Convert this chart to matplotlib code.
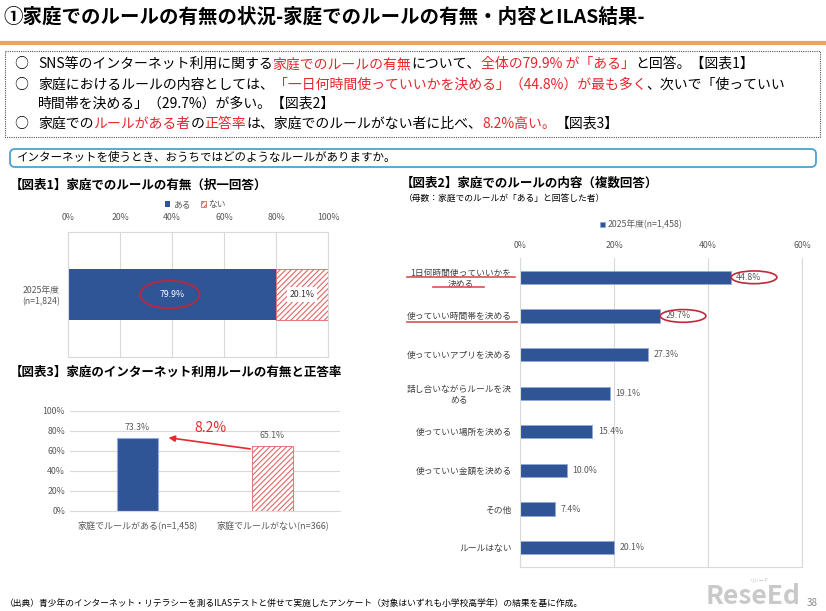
import matplotlib
matplotlib.use("Agg")
import matplotlib.pyplot as plt
import numpy as np
from matplotlib.patches import Ellipse, Rectangle, FancyBboxPatch

plt.rcParams['font.family'] = ['Noto Sans CJK JP', 'DejaVu Sans']
plt.rcParams['hatch.linewidth'] = 0.8

# ---- data ----
fig1_category = ["2025年度\n(n=1,824)"]
fig1_yes = [79.9]
fig1_no = [20.1]
fig1_legend = ["ある", "ない"]

fig2_labels = ["1日何時間使っていいかを\n決める", "使っていい時間帯を決める", "使っていいアプリを決める",
               "話し合いながらルールを決\nめる", "使っていい場所を決める", "使っていい金額を決める",
               "その他", "ルールはない"]
fig2_values = [44.8, 29.7, 27.3, 19.1, 15.4, 10.0, 7.4, 20.1]
fig2_legend = "2025年度(n=1,458)"

fig3_labels = ["家庭でルールがある(n=1,458)", "家庭でルールがない(n=366)"]
fig3_values = [73.3, 65.1]
fig3_diff = "8.2%"

BLUE = "#2F5597"
HATCH_RED = "#E06666"
RED = "#E8262B"
GRID = "#D9D9D9"
TXT = "#595959"

W, H = 826, 611
fig = plt.figure(figsize=(W / 100, H / 100), dpi=100)


def px_axes(x0, y0, x1, y1):
    return fig.add_axes([x0 / W, 1 - y1 / H, (x1 - x0) / W, (y1 - y0) / H])


# overlay axes in pixel coords for the slide furniture
bg = fig.add_axes([0, 0, 1, 1], zorder=5)
bg.set_xlim(0, W)
bg.set_ylim(H, 0)
bg.axis('off')


def seg_line(x, y, segs, size):
    prev = bg.text(x, y, segs[0][0], color=segs[0][1], fontsize=size, va='center', ha='left')
    for s, c in segs[1:]:
        prev = bg.annotate(s, xy=(1, 0), xycoords=prev, color=c, fontsize=size, va='bottom', ha='left')


# title
bg.text(3, 17, "①家庭でのルールの有無の状況-家庭でのルールの有無・内容とILAS結果-",
        fontsize=14, fontweight='bold', va='center')
bg.plot([0, W], [43, 43], color="#EDA35A", lw=3, solid_capstyle='butt')

# summary box
bg.add_patch(Rectangle((5, 51), 815, 86, fill=False, ec="#555555", lw=0.8, ls=(0, (1, 1))))
k = "black"
for yy in [64, 85, 124]:
    bg.text(14, yy, "○", fontsize=10, va='center')
seg_line(38, 64, [("SNS等のインターネット利用に関する", k), ("家庭でのルールの有無", RED), ("について、", k),
                  ("全体の79.9% が「ある」", RED), ("と回答。【図表1】", k)], 10)
seg_line(38, 85, [("家庭におけるルールの内容としては、", k), ("「一日何時間使っていいかを決める」（44.8%）が最も多く", RED),
                  ("、次いで「使っていい", k)], 10)
seg_line(38, 104, [("時間帯を決める」（29.7%）が多い。【図表2】", k)], 10)
seg_line(38, 124, [("家庭での", k), ("ルールがある者", RED), ("の", k), ("正答率", RED),
                   ("は、家庭でのルールがない者に比べ、", k), ("8.2%高い。", RED), ("【図表3】", k)], 10)

# question box
bg.add_patch(FancyBboxPatch((10, 149), 806, 18, boxstyle="round,pad=0,rounding_size=5",
                            fill=False, ec="#4BA3D3", lw=1.3))
bg.text(17, 158, "インターネットを使うとき、おうちではどのようなルールがありますか。", fontsize=8.3, va='center')

# headings
bg.text(10, 185, "【図表1】家庭でのルールの有無（択一回答）", fontsize=9, fontweight='bold', va='center')
bg.text(10, 372, "【図表3】家庭のインターネット利用ルールの有無と正答率", fontsize=9, fontweight='bold', va='center')
bg.text(401, 183, "【図表2】家庭でのルールの内容（複数回答）", fontsize=9, fontweight='bold', va='center')
bg.text(404, 198, "（母数：家庭でのルールが「ある」と回答した者）", fontsize=6.3, va='center')

# ---- 図表1 ----
ax1 = px_axes(68, 232, 328, 357)
ax1.barh(0, fig1_yes, height=0.41, color=BLUE, label=fig1_legend[0])
ax1.barh(0, fig1_no, left=fig1_yes, height=0.41, facecolor='white', edgecolor=HATCH_RED,
         hatch='//////', lw=0.6, label=fig1_legend[1])
ax1.set_xlim(0, 100)
ax1.set_ylim(-0.5, 0.5)
ax1.xaxis.tick_top()
ax1.set_xticks(np.arange(0, 101, 20), [f"{v}%" for v in range(0, 101, 20)])
ax1.set_yticks([0], fig1_category)
for lbl in ax1.get_yticklabels():
    lbl.set_multialignment('center')
ax1.tick_params(length=0, labelsize=6.3, labelcolor=TXT)
ax1.tick_params(axis='y', pad=6)
ax1.tick_params(axis='x', pad=7)
ax1.grid(axis='x', color=GRID, lw=0.8)
ax1.set_axisbelow(True)
for s in ax1.spines.values():
    s.set_color(GRID)
ax1.text(fig1_yes[0] / 2, 0, f"{fig1_yes[0]:.1f}%", color='white', fontsize=6.3, ha='center', va='center')
ax1.text(fig1_yes[0] + fig1_no[0] / 2, 0, f"{fig1_no[0]:.1f}%", color='#333333', fontsize=6.3,
         ha='center', va='center', bbox=dict(fc='white', ec='none', pad=2))
ax1.add_patch(Ellipse((fig1_yes[0] / 2 - 0.8, 0), 23, 0.22, fill=False, ec="#B8283F", lw=1.4))
ax1.legend(loc='lower center', bbox_to_anchor=(0.49, 1.12), ncol=2, frameon=False, fontsize=6.3,
           handlelength=0.6, handleheight=0.6, handletextpad=0.3, columnspacing=1.2, labelcolor=TXT)

# ---- 図表3 ----
ax3 = px_axes(70, 411, 340, 511)
b1 = ax3.bar(0, fig3_values[0], width=0.31, color=BLUE, edgecolor="#8FAADC", lw=0.8)
b2 = ax3.bar(1, fig3_values[1], width=0.31, facecolor='white', edgecolor=HATCH_RED, hatch='//////', lw=0.6)
ax3.set_xlim(-0.5, 1.5)
ax3.set_ylim(0, 100)
ax3.set_yticks(np.arange(0, 101, 20), [f"{v}%" for v in range(0, 101, 20)])
ax3.set_xticks([0, 1], fig3_labels)
ax3.tick_params(length=0, labelsize=6.3, labelcolor=TXT)
ax3.tick_params(axis='x', labelsize=6.5, pad=7)
ax3.grid(axis='y', color=GRID, lw=0.8)
ax3.set_axisbelow(True)
for side in ['top', 'right', 'left']:
    ax3.spines[side].set_visible(False)
ax3.spines['bottom'].set_color(GRID)
for b in [b1, b2]:
    ax3.bar_label(b, fmt="%.1f%%", padding=4, fontsize=6.3, color=TXT)
ax3.annotate("", xy=(0.23, fig3_values[0]), xytext=(0.835, fig3_values[1] - 3),
             arrowprops=dict(arrowstyle='-|>', color=RED, lw=1.2, mutation_scale=9, shrinkA=0, shrinkB=0))
ax3.text(0.54, fig3_values[0] + 10, fig3_diff, color=RED, fontsize=10, ha='center', va='center')

# ---- 図表2 ----
ax2 = px_axes(520, 258, 802, 567)
ypos = np.arange(len(fig2_values))
bars = ax2.barh(ypos, fig2_values, height=0.34, color=BLUE, edgecolor="#8FAADC", lw=0.6, label=fig2_legend)
ax2.set_ylim(len(fig2_values) - 0.5, -0.5)
ax2.set_xlim(0, 60)
ax2.xaxis.tick_top()
ax2.set_xticks(np.arange(0, 61, 20), [f"{v}%" for v in range(0, 61, 20)])
ax2.set_yticks(ypos, fig2_labels)
for lbl in ax2.get_yticklabels():
    lbl.set_multialignment('center')
ax2.tick_params(length=0, labelsize=6.3, labelcolor=TXT)
ax2.tick_params(axis='y', labelcolor="#404040", pad=6)
ax2.tick_params(axis='x', pad=6)
ax2.grid(axis='x', color=GRID, lw=0.8)
ax2.set_axisbelow(True)
ax2.spines['top'].set_visible(False)
for side in ['left', 'right', 'bottom']:
    ax2.spines[side].set_color(GRID)
ax2.bar_label(bars, fmt="%.1f%%", padding=4, fontsize=6.3, color=TXT)
ax2.legend(loc='center', bbox_to_anchor=(0.43, 1.107), frameon=False, fontsize=6.3,
           handlelength=0.6, handleheight=0.6, handletextpad=0.3, labelcolor=TXT)
for i in [0, 1]:
    ax2.add_patch(Ellipse((fig2_values[i] + 5.0, i), 9.7, 0.33, fill=False, ec="#C0283C", lw=1.2, clip_on=False))

# red underlines under highlighted labels
for x0, x1, yy in [(407, 515, 277), (433, 484, 287), (407, 517, 322)]:
    bg.plot([x0, x1], [yy, yy], color="#D9534F", lw=1.2)

# footer
bg.text(5, 603, "（出典）青少年のインターネット・リテラシーを測るILASテストと併せて実施したアンケート（対象はいずれも小学校高学年）の結果を基に作成。",
        fontsize=6.3, va='center')
bg.text(800, 597, "ReseEd", fontsize=19, fontweight='bold', color="#C9C9C9", ha='right', va='center')
bg.text(760, 581, "リシード", fontsize=3.5, color="#BBBBBB", ha='center', va='center')
bg.text(812, 603, "38", fontsize=7, color="#888888", ha='center', va='center')

fig.savefig("out.png", dpi=100)
